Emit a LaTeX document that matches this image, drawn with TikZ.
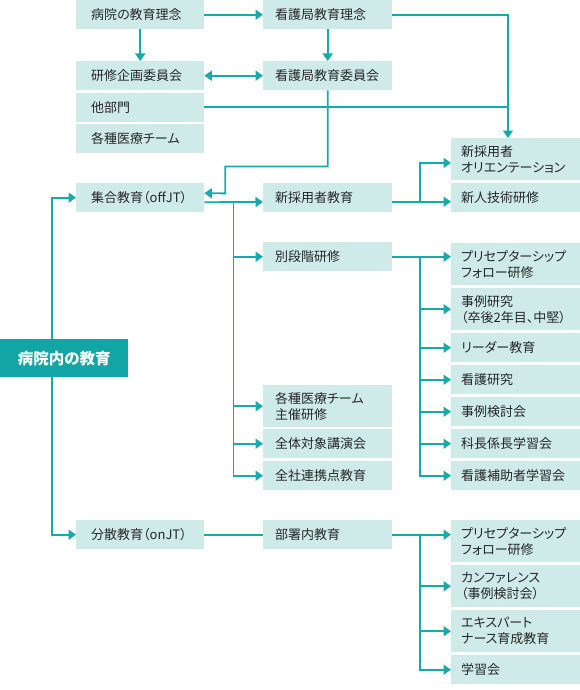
\documentclass[tikz,border=0pt]{standalone}
\usepackage{fontspec}
\setmainfont{Noto Sans CJK JP}[RawFeature=+palt]
\usetikzlibrary{calc,arrows.meta}
\definecolor{steal}{HTML}{17AAAA}
\definecolor{sbox}{HTML}{CEEBEA}
\definecolor{sdark}{HTML}{12A5A5}
\definecolor{stext}{HTML}{262626}

\begin{document}
\begin{tikzpicture}[x=1pt,y=-1pt,
    >={Triangle[width=10pt,length=7.5pt]},
    BOX/.style={rectangle, fill=sbox, text=stext, anchor=north west, minimum height=29pt, inner ysep=0pt, align=left, font=\fontsize{13}{16}\selectfont},
    COLA/.style={BOX, minimum width=128pt, inner xsep=15pt, text width=98pt},
    COLB/.style={BOX, minimum width=129pt, inner xsep=12pt, text width=105pt},
    COLC/.style={BOX, minimum width=129pt, inner xsep=10pt, text width=109pt},
    TALL/.style={minimum height=42pt},
    MAIN/.style={rectangle, fill=sdark, text=white, anchor=north west, minimum width=128pt, minimum height=38pt, inner sep=0pt, font=\fontsize{15.5}{18}\selectfont\bfseries},
    LINK/.style={draw=steal, line width=1.8pt}
    ]
    \useasboundingbox (0,0) rectangle (580,690);
        \node[COLA] (A1) at (76,0) {病院の教育理念};
        \node[COLB] (B1) at (263,0) {看護局教育理念};
        \node[COLA] (A2) at (76,61) {研修企画委員会};
        \node[COLB] (B2) at (263,61) {看護局教育委員会};
        \node[COLA] (A3) at (76,92.5) {他部門};
        \node[COLA] (A4) at (76,124) {各種医療チーム};
        \node[COLC,TALL] (C1) at (451,138) {新採用者\\オリエンテーション};
        \node[COLC] (C2) at (451,183) {新人技術研修};
        \node[COLA] (A5) at (76,183) {集合教育（offJT）};
        \node[COLB] (B3) at (263,183) {新採用者教育};
        \node[COLB] (B4) at (263,242) {別段階研修};
        \node[COLC,TALL] (C3) at (451,243) {プリセプターシップ\\フォロー研修};
        \node[COLC,TALL] (C4) at (451,288) {事例研究\\（卒後2年目、中堅）};
        \node[COLC] (C5) at (451,333) {リーダー教育};
        \node[COLC] (C6) at (451,365) {看護研究};
        \node[COLC] (C7) at (451,397) {事例検討会};
        \node[COLC] (C8) at (451,429) {科長係長学習会};
        \node[COLC] (C9) at (451,461) {看護補助者学習会};
        \node[COLB,TALL] (B5) at (263,385) {各種医療チーム\\主催研修};
        \node[COLB] (B6) at (263,429) {全体対象講演会};
        \node[COLB] (B7) at (263,461) {全社連携点教育};
        \node[MAIN] (M) at (0,339) {病院内の教育};
        \node[COLA] (A6) at (76,520) {分散教育（onJT）};
        \node[COLB] (B8) at (263,520) {部署内教育};
        \node[COLC,TALL] (C10) at (451,520) {プリセプターシップ\\フォロー研修};
        \node[COLC,TALL] (C11) at (451,565) {カンファレンス\\（事例検討会）};
        \node[COLC,TALL] (C12) at (451,610) {エキスパート\\ナース育成教育};
        \node[COLC] (C13) at (451,655) {学習会};
        % top part
        \draw[LINK,->] (A1.east) -- (B1.west);
        \draw[LINK,->] (A1.south) -- (A2.north);
        \draw[LINK,->] (B1.south) -- (B2.north);
        \draw[LINK,<->] (A2.east) -- (B2.west);
        \coordinate (J1) at (508,107.3);
        \draw[LINK] (A3.east |- J1) -- (J1);
        \draw[LINK,->] (B1.east) -| (J1) -- (J1 |- C1.north);
        \draw[LINK,->] (B2.south) -- ++(0,76) -- ++(-102.5,0) -- ++(0,27) -- ($(A5.east)+(0,-4.5)$);
        % offJT
        \draw[LINK,->] ($(M.north)+(-12,0)$) |- (A5.west);
        \coordinate (J3) at (233.5,202);
        \draw[LINK,->] ($(A5.east)+(0,4.5)$) -- (J3 -| B3.west);
        \draw[LINK,->] (J3) |- (B7.west);
        \foreach \n in {B4,B5,B6}
            \draw[LINK,->] (J3 |- \n.west) -- (\n.west);
        \coordinate (J5) at (420,201.7);
        \draw[LINK,->] (B3.east |- J5) -- (J5 -| C2.west);
        \draw[LINK,->] (J5) |- ($(C1.west)+(0,3.7)$);
        \coordinate (J6) at (B4.east -| J5);
        \draw[LINK,->] (B4.east) -- (B4.east -| C3.west);
        \draw[LINK,->] (J6) |- (C9.west);
        \foreach \n in {C4,C5,C6,C7,C8}
            \draw[LINK,->] (J6 |- \n.west) -- (\n.west);
        % onJT
        \draw[LINK,->] ($(M.south)+(-12,0)$) |- (A6.west);
        \draw[LINK] (A6.east) -- (B8.west);
        \coordinate (J7) at (B8.east -| J5);
        \draw[LINK,->] (B8.east) -- (B8.east -| C10.west);
        \draw[LINK,->] (J7) |- (C13.west);
        \foreach \n in {C11,C12}
            \draw[LINK,->] (J7 |- \n.west) -- (\n.west);
    \end{tikzpicture}
\end{document}
